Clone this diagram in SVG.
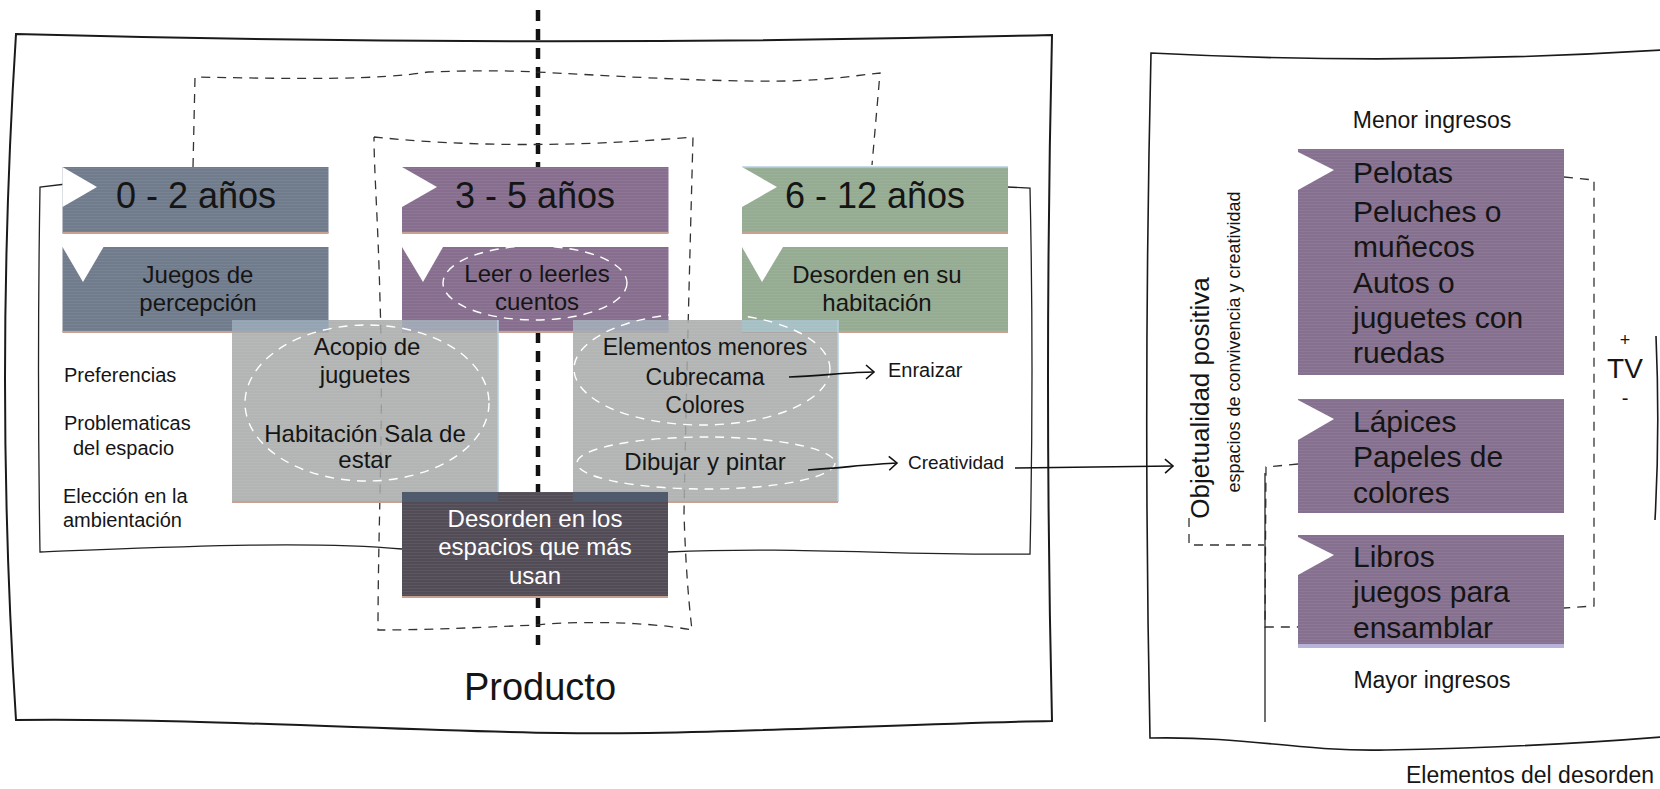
<svg xmlns="http://www.w3.org/2000/svg" width="1660" height="789" viewBox="0 0 1660 789">
<defs>
<style>
.t{font-family:"Liberation Sans",Arial,sans-serif;fill:#151515}
.w{fill:#ffffff}
.m{text-anchor:middle}
.s36{font-size:36px}.s30{font-size:30px}.s24{font-size:24px}.s23{font-size:23px}.s20{font-size:20px}.s19{font-size:19px}.s18{font-size:18px}.s26{font-size:26px}.s28{font-size:28px}
.frame{fill:none;stroke:#1a1a1a;stroke-width:2}
.thin{fill:none;stroke:#222;stroke-width:1.3}
.dash{fill:none;stroke:#333;stroke-width:1.3;stroke-dasharray:9 7}
.wdash{fill:none;stroke:#ffffff;stroke-width:1.4;stroke-dasharray:9 7}
.tri{fill:#ffffff}
.bot{stroke:#c7a291;stroke-width:2}
.top{stroke:#b4d0e0;stroke-width:1.5}
.arrow{fill:none;stroke:#111;stroke-width:1.6;marker-end:url(#chev)}
</style>
<pattern id="tex" width="8" height="3" patternUnits="userSpaceOnUse"><rect width="8" height="1" fill="#ffffff" opacity="0.06"/></pattern>
<marker id="chev" markerWidth="14" markerHeight="20" refX="9" refY="8" orient="auto" markerUnits="userSpaceOnUse"><path d="M1,1 L9,8 L1,15" fill="none" stroke="#111" stroke-width="1.6"/></marker>
</defs>
<rect width="1660" height="789" fill="#ffffff"/>

<g id="frame-producto">
<path class="frame" d="M16,34 Q536,48 1052,35 Q1044,380 1052,721 C900,724 700,735 560,733 C400,731 200,718 16,720 Q-6,380 16,34 Z"/>
<text class="t m" x="540" y="700" style="font-size:38px">Producto</text>
</g>

<g id="frame-elementos">
<path class="frame" style="stroke-width:1.6" d="M1662,50 Q1400,66 1151,53 Q1143,400 1150,738 C1250,736 1300,752 1386,750 C1500,748 1600,742 1662,737"/>
<path class="frame" style="stroke-width:1.6" d="M1656,336 Q1660,430 1655,520"/>
<text class="t m s23" x="1530" y="783">Elementos del desorden</text>
</g>

<g id="connectors">
<path d="M538,10 V167 M538,332 V492 M538,597 V645" fill="none" stroke="#111" stroke-width="4.5" stroke-dasharray="11 8"/>
<path class="dash" d="M193,167 L195,77 C300,79 380,80 428,72 C480,70 520,71 536,72 C600,75 700,82 786,81 C830,80 860,75 880,73 L872,165"/>
<path class="dash" d="M374,137 Q520,152 693,137 C690,250 686,400 684,513 Q686,580 692,630 C640,620 560,622 536,625 C470,628 420,630 378,630 C378,520 384,420 380,300 C378,220 374,170 374,137"/>
<path class="thin" d="M66,184 L40,187 Q37,370 40,552 C150,548 300,540 402,549"/>
<path class="thin" d="M668,552 C800,546 900,556 1030,554 Q1034,370 1030,188 L1007,187"/>
<path class="dash" d="M1564,177 L1594,180 L1594,606 L1564,608"/>
<path class="dash" d="M1298,464 L1266,467 L1265,627 L1298,627"/>
<path class="dash" d="M1189,518 L1189,545 L1264,545"/>
<path class="thin" d="M1265,473 L1265,722"/>
</g>

<g id="n-0-2">
<rect x="62.5" y="167" width="266" height="66" fill="#707b8c"/>
<rect x="62.5" y="167" width="266" height="66" fill="url(#tex)"/>
<line class="bot" x1="62.5" y1="233" x2="328.5" y2="233"/>
<polygon class="tri" points="62.5,167 62.5,207 97,187"/>
<text class="t m s36" x="196" y="208">0 - 2 años</text>
</g>

<g id="n-3-5">
<rect x="402" y="167" width="266.5" height="66" fill="#876e8e"/>
<rect x="402" y="167" width="266.5" height="66" fill="url(#tex)"/>
<line class="bot" x1="402" y1="233" x2="668.5" y2="233"/>
<polygon class="tri" points="402,167 402,207 437,187"/>
<text class="t m s36" x="535" y="208">3 - 5 años</text>
</g>

<g id="n-6-12">
<rect x="742" y="167" width="266" height="66" fill="#95ab92"/>
<rect x="742" y="167" width="266" height="66" fill="url(#tex)"/>
<line class="top" x1="742" y1="167" x2="1008" y2="167"/>
<line class="bot" x1="742" y1="233" x2="1008" y2="233"/>
<polygon class="tri" points="742,167 742,207 777,187"/>
<text class="t m s36" x="875" y="208">6 - 12 años</text>
</g>

<g id="n-juegos">
<rect x="62.5" y="247" width="266" height="85" fill="#707b8c"/>
<rect x="62.5" y="247" width="266" height="85" fill="url(#tex)"/>
<line class="bot" x1="62.5" y1="332" x2="328.5" y2="332"/>
<polygon class="tri" points="62.5,247 103.5,247 83,282"/>
<text class="t m s24" x="198" y="283">Juegos de</text>
<text class="t m s24" x="198" y="311">percepción</text>
</g>

<g id="n-leer">
<rect x="402" y="247" width="266.5" height="85" fill="#876e8e"/>
<rect x="402" y="247" width="266.5" height="85" fill="url(#tex)"/>
<line class="bot" x1="402" y1="332" x2="668.5" y2="332"/>
<polygon class="tri" points="402,247 443,247 423,282"/>
<ellipse class="wdash" cx="535" cy="283" rx="92" ry="37"/>
<text class="t m s24" x="537" y="282">Leer o leerles</text>
<text class="t m s24" x="537" y="310">cuentos</text>
</g>

<g id="n-desorden-hab">
<rect x="742" y="247" width="266" height="85" fill="#95ab92"/>
<rect x="742" y="247" width="266" height="85" fill="url(#tex)"/>
<line class="bot" x1="742" y1="332" x2="1008" y2="332"/>
<polygon class="tri" points="742,247 783,247 762,282"/>
<text class="t m s24" x="877" y="283">Desorden en su</text>
<text class="t m s24" x="877" y="311">habitación</text>
</g>

<g id="n-acopio">
<rect x="232" y="320" width="266" height="182" fill="#a6a9a9" fill-opacity="0.86"/>
<rect x="232" y="320" width="266" height="182" fill="url(#tex)"/>
<rect x="232" y="320" width="96.5" height="12" fill="#8aa6c4" opacity="0.45"/>
<rect x="402" y="320" width="96" height="12" fill="#9fb0cc" opacity="0.4"/>
<line class="top" x1="498" y1="320" x2="498" y2="502"/>
<line class="bot" x1="232" y1="502" x2="402" y2="502"/>
<ellipse class="wdash" cx="367" cy="403" rx="122" ry="78"/>
<text class="t m s24" x="367" y="355">Acopio de</text>
<text class="t m s24" x="365" y="383">juguetes</text>
<text class="t m s24" x="365" y="442">Habitación Sala de</text>
<text class="t m s24" x="365" y="468">estar</text>
</g>

<g id="n-elementos">
<rect x="573" y="320" width="265" height="182" fill="#a6a9a9" fill-opacity="0.86"/>
<rect x="573" y="320" width="265" height="182" fill="url(#tex)"/>
<rect x="573" y="320" width="95.5" height="12" fill="#9fb0cc" opacity="0.4"/>
<rect x="742" y="320" width="96" height="12" fill="#a8d4de" opacity="0.55"/>
<line class="top" x1="838" y1="320" x2="838" y2="502"/>
<line class="bot" x1="668" y1="502" x2="838" y2="502"/>
<ellipse class="wdash" cx="702" cy="369" rx="128" ry="56"/>
<ellipse class="wdash" cx="706" cy="463" rx="129" ry="26"/>
<text class="t m s23" x="705" y="355">Elementos menores</text>
<text class="t m s23" x="705" y="385">Cubrecama</text>
<text class="t m s23" x="705" y="413">Colores</text>
<text class="t m s24" x="705" y="470">Dibujar y pintar</text>
</g>

<g id="n-desorden-espacios">
<rect x="402" y="492" width="266" height="105" fill="#524c56"/>
<rect x="402" y="492" width="266" height="105" fill="url(#tex)"/>
<rect x="402" y="492" width="96" height="10" fill="#4f5c70" opacity="0.9"/>
<rect x="573" y="492" width="95" height="10" fill="#4f5c70" opacity="0.9"/>
<line class="bot" x1="402" y1="597" x2="668" y2="597"/>
<text class="t w m s24" x="535" y="527">Desorden en los</text>
<text class="t w m s24" x="535" y="555">espacios que más</text>
<text class="t w m s24" x="535" y="584">usan</text>
</g>

<g id="n-labels-izq">
<text class="t s20" x="64" y="382">Preferencias</text>
<text class="t s20" x="64" y="430">Problematicas</text>
<text class="t s20" x="73" y="455">del espacio</text>
<text class="t s20" x="63" y="503">Elección en la</text>
<text class="t s20" x="63" y="527">ambientación</text>
</g>

<g id="n-enraizar"><text class="t s20" x="888" y="377">Enraizar</text></g>
<g id="n-creatividad"><text class="t s19" x="908" y="469">Creatividad</text></g>

<g id="n-objetualidad">
<text class="t m s26" transform="translate(1209,398) rotate(-90)">Objetualidad positiva</text>
<text class="t m s18" transform="translate(1240,342) rotate(-90)">espacios de convivencia y creatividad</text>
</g>

<g id="n-menor"><text class="t m s23" x="1432" y="128">Menor ingresos</text></g>

<g id="n-pelotas">
<rect x="1298" y="149" width="266" height="226" fill="#86708f"/>
<rect x="1298" y="149" width="266" height="226" fill="url(#tex)"/>
<polygon class="tri" points="1298,152 1298,190 1334,170"/>
<text class="t s30" x="1353" y="183">Pelotas</text>
<text class="t s30" x="1353" y="222">Peluches o</text>
<text class="t s30" x="1353" y="257">muñecos</text>
<text class="t s30" x="1353" y="293">Autos o</text>
<text class="t s30" x="1353" y="328">juguetes con</text>
<text class="t s30" x="1353" y="363">ruedas</text>
</g>

<g id="n-lapices">
<rect x="1298" y="399" width="266" height="114" fill="#86708f"/>
<rect x="1298" y="399" width="266" height="114" fill="url(#tex)"/>
<polygon class="tri" points="1298,400 1298,440 1334,419"/>
<text class="t s30" x="1353" y="432">Lápices</text>
<text class="t s30" x="1353" y="467">Papeles de</text>
<text class="t s30" x="1353" y="503">colores</text>
</g>

<g id="n-libros">
<rect x="1298" y="535" width="266" height="113" fill="#86708f"/>
<rect x="1298" y="535" width="266" height="113" fill="url(#tex)"/>
<rect x="1298" y="644" width="266" height="4" fill="#b8b3da"/>
<polygon class="tri" points="1298,537 1298,575 1334,555"/>
<text class="t s30" x="1353" y="567">Libros</text>
<text class="t s30" x="1353" y="602">juegos para</text>
<text class="t s30" x="1353" y="638">ensamblar</text>
</g>

<g id="n-mayor"><text class="t m s23" x="1432" y="688">Mayor ingresos</text></g>

<g id="n-tv">
<text class="t m s18" x="1625" y="346">+</text>
<text class="t m s28" x="1625" y="378">TV</text>
<text class="t m s20" x="1625" y="405">-</text>
</g>

<g id="arrows">
<path class="arrow" d="M789,377 C820,376 850,372 874,372"/>
<path class="arrow" d="M808,470 C840,468 870,464 897,463"/>
<path class="arrow" d="M1015,468 L1173,466"/>
</g>
</svg>
